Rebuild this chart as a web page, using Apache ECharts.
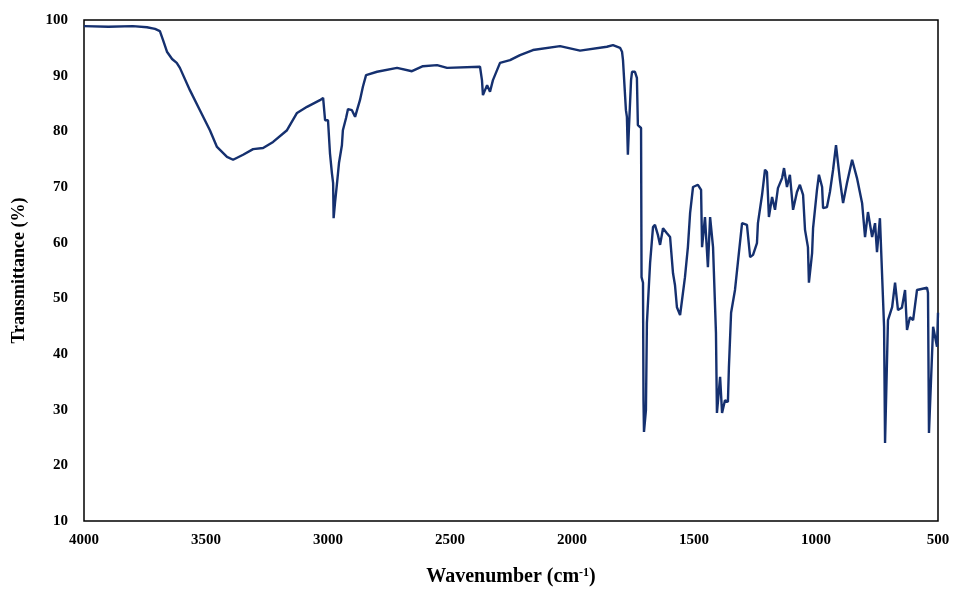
<!DOCTYPE html>
<html>
<head>
<meta charset="utf-8">
<script src="https://cdn.jsdelivr.net/npm/echarts@6/dist/echarts.min.js"></script>
<style>
html,body{margin:0;padding:0;background:#fff;}
#chart{width:958px;height:590px;}
</style>
</head>
<body>
<div id="chart"></div>
<script>
// FTIR spectrum
const wavenumbers = [
  4000, 3900, 3800, 3742, 3709, 3689, 3676, 3660, 3639, 3620, 3607, 3566, 3525, 3484, 3455, 3414, 3389, 3348, 3307,
  3266, 3225, 3168, 3127, 3086, 3033, 3020, 3012, 3000, 2992, 2984, 2979, 2977, 2971, 2963, 2955,
  2943, 2939, 2926, 2918, 2902, 2889, 2881, 2869, 2857, 2844, 2799, 2717, 2656, 2611, 2553, 2512,
  2377, 2369, 2365, 2348, 2336, 2324, 2295, 2254, 2213, 2160, 2049, 1967, 1857, 1832, 1803, 1795,
  1791, 1783, 1779, 1775, 1771, 1767, 1758, 1754, 1742, 1734, 1730, 1717, 1715, 1709, 1707, 1705,
  1697, 1693, 1680, 1668, 1660, 1648, 1639, 1627, 1611, 1598, 1586, 1578, 1570, 1557, 1549, 1537,
  1525, 1516, 1504, 1484, 1471, 1467, 1455, 1443, 1434, 1426, 1422, 1410, 1406, 1393, 1385, 1373,
  1361, 1357, 1348, 1332, 1320, 1303, 1283, 1270, 1258, 1242, 1238, 1221, 1209, 1201, 1193, 1180,
  1168, 1156, 1139, 1131, 1119, 1107, 1094, 1078, 1066, 1053, 1045, 1033, 1029, 1016, 1012, 996,
  988, 975, 971, 955, 943, 930, 918, 902, 889, 873, 852, 832, 811, 799, 787, 770,
  758, 750, 738, 721, 717, 705, 688, 676, 664, 648, 635, 627, 615, 602, 586, 545,
  541, 537, 520, 504, 500
];
const transmittance = [
  98.9, 98.8, 98.9, 98.7, 98.4, 98.0, 96.4, 94.3, 93.0, 92.3, 91.4, 87.4, 83.8, 80.2, 77.2, 75.4, 74.9, 75.8, 76.8,
  77.0, 78.1, 80.2, 83.3, 84.4, 85.6, 86.0, 82.0, 82.0, 76.1, 72.5, 70.7, 64.4, 67.3, 70.7, 74.3,
  77.5, 80.2, 82.4, 84.0, 83.8, 82.6, 83.8, 85.6, 88.0, 90.1, 90.7, 91.4, 90.8, 91.7, 91.9, 91.4,
  91.6, 89.2, 86.5, 88.3, 87.1, 89.2, 92.3, 92.8, 93.7, 94.6, 95.3, 94.5, 95.2, 95.5, 95.0, 94.3,
  92.8, 92.5, 83.8, 82.6, 75.8, 80.2, 89.2, 90.7, 90.7, 89.6, 81.1, 80.6, 53.8, 52.8, 31.7, 26.0,
  29.9, 45.6, 56.3, 62.8, 63.2, 61.4, 59.6, 62.6, 61.7, 61.0, 54.5, 52.4, 48.4, 47.0, 49.7, 53.8,
  59.2, 65.3, 70.0, 70.4, 69.5, 59.2, 64.6, 55.6, 64.6, 64.6, 59.2, 43.8, 29.4, 35.9, 29.4, 31.7,
  31.4, 37.5, 47.4, 51.5, 56.5, 63.5, 63.2, 57.4, 57.8, 59.9, 63.5, 68.6, 73.1, 72.7, 64.6, 68.2,
  65.9, 69.8, 71.6, 73.4, 70.0, 72.2, 65.9, 69.1, 70.4, 68.6, 62.3, 59.2, 52.8, 58.1, 62.6, 69.5,
  72.2, 70.0, 66.2, 66.4, 69.1, 73.1, 77.5, 71.3, 67.1, 70.7, 74.9, 71.6, 67.1, 61.0, 65.5, 61.0,
  63.5, 58.3, 64.4, 44.9, 24.0, 46.1, 48.4, 52.8, 47.9, 48.3, 51.5, 44.3, 46.6, 46.1, 51.5, 51.9,
  51.0, 25.8, 44.9, 41.3, 47.4
];

const xTitle = 'Wavenumber (cm{sup|-1})';
const yTitle = 'Transmittance (%)';

const data = wavenumbers.map((w, i) => [w, transmittance[i]]);
const font = '"Liberation Serif", "Times New Roman", serif';

const chart = echarts.init(document.getElementById('chart'));
chart.setOption({
  animation: false,
  backgroundColor: '#fff',
  grid: {
    left: 84, right: 20, top: 20, bottom: 69,
    outerBoundsMode: 'none', containLabel: false,
    show: true, borderColor: '#000', borderWidth: 1.5, backgroundColor: 'transparent'
  },
  xAxis: {
    type: 'value', inverse: true, min: 500, max: 4000, interval: 500,
    axisLine: { show: false }, axisTick: { show: false }, splitLine: { show: false },
    axisLabel: { color: '#000', fontFamily: font, fontWeight: 'bold', fontSize: 15, margin: 12,
      formatter: v => String(v) },
    name: xTitle, nameLocation: 'middle', nameGap: 46,
    nameTextStyle: {
      color: '#000', fontFamily: font, fontWeight: 'bold', fontSize: 20,
      rich: { sup: { fontFamily: font, fontWeight: 'bold', fontSize: 12, verticalAlign: 'top', padding: [0, 0, 8, 0] } }
    }
  },
  yAxis: {
    type: 'value', min: 10, max: 100, interval: 10,
    axisLine: { show: false }, axisTick: { show: false }, splitLine: { show: false },
    axisLabel: { color: '#000', fontFamily: font, fontWeight: 'bold', fontSize: 15, margin: 16 },
    name: yTitle, nameLocation: 'middle', nameGap: 56, nameRotate: 90,
    nameTextStyle: { color: '#000', fontFamily: font, fontWeight: 'bold', fontSize: 18 }
  },
  series: [{
    type: 'line', data: data, showSymbol: false, symbol: 'none',
    lineStyle: { color: '#15306f', width: 2.4 }, clip: true
  }]
});
</script>
</body>
</html>
